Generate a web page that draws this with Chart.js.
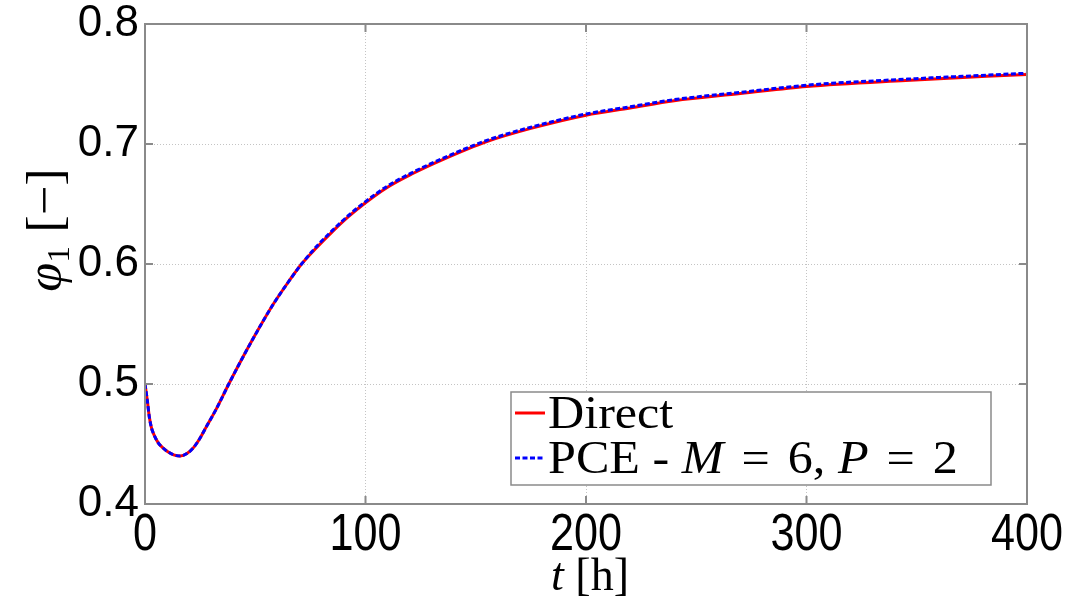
<!DOCTYPE html>
<html>
<head>
<meta charset="utf-8">
<script src="https://cdn.jsdelivr.net/npm/chart.js@4.4.1/dist/chart.umd.min.js"></script>
<style>
  html, body { margin: 0; padding: 0; background: #fff; }
  #wrap { width: 1084px; height: 604px; }
</style>
</head>
<body>
<div id="wrap"><canvas id="phi-chart" width="1084" height="604"></canvas></div>
<script>
// time axis [h]
var times = [0, 1, 2, 3, 4, 6, 8, 10, 13, 16, 19, 22, 25, 28, 32, 38, 44, 50, 58, 65,
             71, 78, 85, 92, 100, 110, 121, 135, 155, 175, 200, 220, 240, 270, 300, 345, 400]

// phi_1 from the direct model
var direct = [0.500, 0.487, 0.472, 0.463, 0.458, 0.451, 0.447, 0.444, 0.441, 0.440,
              0.442, 0.447, 0.455, 0.465, 0.478, 0.500, 0.521, 0.541, 0.566, 0.585,
              0.600, 0.614, 0.627, 0.639, 0.651, 0.664, 0.675, 0.687, 0.702, 0.713,
              0.724, 0.730, 0.736, 0.742, 0.748, 0.753, 0.758]

// phi_1 from the PCE surrogate
var pce = [0.500, 0.487, 0.472, 0.463, 0.458, 0.451, 0.447, 0.444, 0.441, 0.440,
           0.442, 0.447, 0.455, 0.465, 0.478, 0.500, 0.521, 0.541, 0.566, 0.585,
           0.600, 0.615, 0.628, 0.640, 0.652, 0.665, 0.676, 0.688, 0.703, 0.714,
           0.725, 0.731, 0.737, 0.743, 0.749, 0.754, 0.759]

var xTicks = [0, 100, 200, 300, 400]
var yTicks = [0.4, 0.5, 0.6, 0.7, 0.8]

function toPoints(ys) {
    return times.map(function(t, i) { return { x: t, y: ys[i] } })
}

// draws a list of text runs one after another, centred on x
function drawRuns(ctx, runs, x, y, sx, align) {
    var total = 0
    runs.forEach(function(r) {
        ctx.font = r.font
        r.w = ctx.measureText(r.text).width + (r.gap || 0) * 2
        total += r.w
    })
    ctx.save()
    ctx.translate(x, y)
    ctx.scale(sx, 1)
    var cx = align === 'left' ? 0 : -total / 2
    runs.forEach(function(r) {
        ctx.font = r.font
        ctx.fillText(r.text, cx + (r.gap || 0), r.dy || 0)
        cx += r.w
    })
    ctx.restore()
}

var SERIF = "'Liberation Serif', 'DejaVu Serif', serif"
var SANS = "'Liberation Sans', Arial, sans-serif"

// box around the axes with inward tick marks on all four sides,
// plus the condensed labels under the time axis
var framePlugin = {
    id: 'frame',
    afterDraw: function(chart) {
        var ctx = chart.ctx
        var a = chart.chartArea
        var xs = chart.scales.x, ys = chart.scales.y
        ctx.save()
        ctx.strokeStyle = '#8a8a8a'
        ctx.lineWidth = 2
        ctx.strokeRect(a.left, a.top, a.right - a.left, a.bottom - a.top)
        ctx.beginPath()
        xTicks.forEach(function(v) {
            var px = xs.getPixelForValue(v)
            ctx.moveTo(px, a.bottom); ctx.lineTo(px, a.bottom - 8)
            ctx.moveTo(px, a.top); ctx.lineTo(px, a.top + 8)
        })
        yTicks.forEach(function(v) {
            var py = ys.getPixelForValue(v)
            ctx.moveTo(a.left, py); ctx.lineTo(a.left + 8, py)
            ctx.moveTo(a.right, py); ctx.lineTo(a.right - 8, py)
        })
        ctx.stroke()

        ctx.fillStyle = '#000'
        ctx.textBaseline = 'alphabetic'
        xTicks.forEach(function(v) {
            drawRuns(ctx, [{ text: String(v), font: '52px ' + SANS }],
                     xs.getPixelForValue(v), a.bottom + 46, 0.83)
        })
        ctx.restore()
    }
}

// axis titles with italic symbols and a subscript
var titlesPlugin = {
    id: 'titles',
    afterDraw: function(chart) {
        var ctx = chart.ctx
        var a = chart.chartArea
        ctx.save()
        ctx.fillStyle = '#000'
        ctx.textBaseline = 'alphabetic'
        drawRuns(ctx, [
            { text: 't', font: 'italic 46px ' + SERIF },
            { text: ' [h]', font: '46px ' + SERIF }
        ], (a.left + a.right) / 2 + 4, 590, 1.0)

        ctx.translate(61, 230)
        ctx.rotate(-Math.PI / 2)
        drawRuns(ctx, [
            { text: 'φ', font: 'italic 50px ' + SERIF },
            { text: '1', font: '32px ' + SERIF, dy: 8 },
            { text: ' [−]', font: '50px ' + SERIF }
        ], 0, 0, 1.05)
        ctx.restore()
    }
}

// boxed legend in the lower right of the axes
var legendPlugin = {
    id: 'boxLegend',
    afterDraw: function(chart) {
        var ctx = chart.ctx
        var a = chart.chartArea
        var w = 480, h = 93
        var left = a.right - 36 - w
        var top = a.bottom - 19 - h
        ctx.save()
        ctx.fillStyle = '#fff'
        ctx.fillRect(left, top, w, h)
        ctx.strokeStyle = '#8a8a8a'
        ctx.lineWidth = 1.5
        ctx.strokeRect(left, top, w, h)
        chart.data.datasets.forEach(function(ds, i) {
            var cy = top + 21 + i * 45
            ctx.strokeStyle = ds.borderColor
            ctx.lineWidth = ds.borderWidth
            ctx.setLineDash(ds.borderDash || [])
            ctx.beginPath()
            ctx.moveTo(left + 4, cy)
            ctx.lineTo(left + 34, cy)
            ctx.stroke()
            ctx.setLineDash([])
            // single capital letters are math symbols, set them in italic
            var parts = ds.label.split(/(\b[A-Z]\b)/)
            var runs = []
            parts.forEach(function(p, k) {
                if (!p) return
                if (k % 2 === 1) {
                    runs.push({ text: p, font: 'italic 46px ' + SERIF })
                } else {
                    p.split(/(=)/).forEach(function(q) {
                        if (!q) return
                        runs.push({ text: q, font: '46px ' + SERIF, gap: q === '=' ? 5 : 0 })
                    })
                }
            })
            ctx.fillStyle = '#000'
            ctx.textBaseline = 'alphabetic'
            drawRuns(ctx, runs, left + 37, cy + 15, 1.09, 'left')
        })
        ctx.restore()
    }
}

function drawChart() {
    var ctx = document.getElementById('phi-chart')
    new Chart(ctx, {
        type: 'line',
        data: {
            datasets: [{
                label: 'Direct',
                data: toPoints(direct),
                borderColor: '#ff0000',
                borderWidth: 3,
                pointRadius: 0,
                cubicInterpolationMode: 'monotone',
                order: 2
            }, {
                label: 'PCE - M = 6, P = 2',
                data: toPoints(pce),
                borderColor: '#0000ff',
                borderWidth: 3,
                borderDash: [5, 2.5],
                pointRadius: 0,
                cubicInterpolationMode: 'monotone',
                order: 1
            }]
        },
        options: {
            responsive: false,
            animation: false,
            events: [],
            layout: { padding: { top: 24, right: 57, left: 0, bottom: 0 } },
            plugins: {
                legend: { display: false },
                tooltip: { enabled: false }
            },
            scales: {
                x: {
                    type: 'linear',
                    min: 0,
                    max: 400,
                    afterFit: function(s) { s.height = 100 },
                    afterBuildTicks: function(s) { s.ticks = xTicks.map(function(v) { return { value: v } }) },
                    grid: { color: '#c4c4c4', lineWidth: 1, drawTicks: false },
                    border: { display: false, dash: [1, 2] },
                    ticks: { display: false }
                },
                y: {
                    min: 0.4,
                    max: 0.8,
                    afterFit: function(s) { s.width = 145 },
                    afterBuildTicks: function(s) { s.ticks = yTicks.map(function(v) { return { value: v } }) },
                    grid: { color: '#c4c4c4', lineWidth: 1, drawTicks: false },
                    border: { display: false, dash: [1, 2] },
                    ticks: {
                        padding: 6,
                        color: '#000',
                        font: { family: SANS, size: 44, lineHeight: 0.8 },
                        callback: function(v) { return v.toFixed(1) }
                    }
                }
            }
        },
        plugins: [framePlugin, legendPlugin, titlesPlugin]
    })
}

drawChart()
</script>
</body>
</html>
